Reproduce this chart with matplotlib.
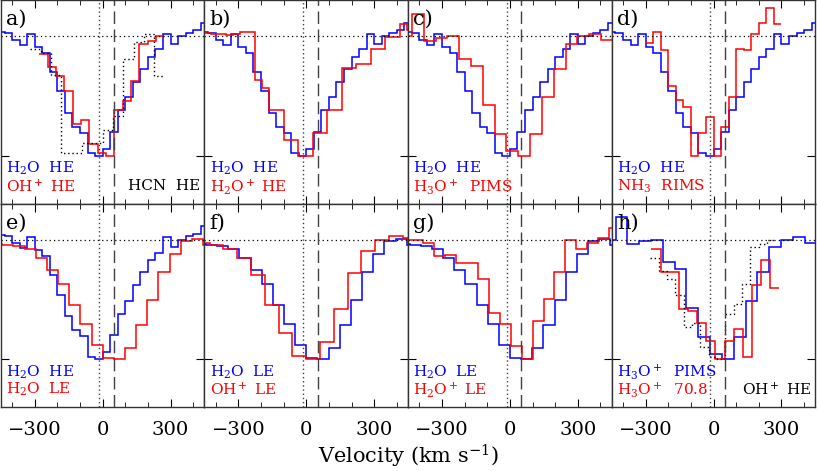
import matplotlib.pyplot as plt
import numpy as np

plt.rcParams['font.family'] = 'DejaVu Serif'
plt.rcParams['mathtext.fontset'] = 'dejavuserif'

# each spectrum: first bin edge (km/s), bin width (km/s), normalised depth per bin
h2o_he_v0, h2o_he_dv = -466.7, 33.333
h2o_he = [1.04, 1.03, 0.97, 0.93, 1.02, 0.91, 0.86, 0.70, 0.54, 0.36, 0.24, 0.19, 0.02, 0.00,
          0.06, 0.20, 0.38, 0.49, 0.62, 0.73, 0.83, 0.89, 1.02, 0.94, 1.00, 1.03, 1.05, 1.11]

oh_he_v0, oh_he_dv = -279.4, 36.8
oh_he = [0.85, 0.74, 0.67, 0.54, 0.27, 0.30, 0.10, 0.02, 0.00, 0.38, 0.46, 0.63, 0.94, 0.96, 1.00]

hcn_he_v0, hcn_he_dv = -319.0, 45.6
hcn_he = [0.89, 0.86, 0.68, 0.02, 0.02, 0.11, 0.11, 0.22, 0.33, 0.81, 0.95, 1.02, 0.67]

h2op_he_v0, h2op_he_dv = -451.0, 32.0
h2op_he = [1.03, 1.02, 1.02, 1.01, 1.02, 1.036, 1.036, 0.633, 0.564, 0.383, 0.383, 0.133, 0.133,
           0.0, 0.0, 0.194, 0.194, 0.383, 0.383, 0.731, 0.731, 0.772, 0.772, 0.897, 0.897,
           0.994, 0.994, 1.105, 1.05]

h3op_pims_v0, h3op_pims_dv = -485.0, 52.2
h3op_pims = [1.0, 1.19, 0.96, 0.99, 1.0, 0.81, 0.75, 0.425, 0.183, 0.04, 0.0, 0.183, 0.49,
             0.73, 0.94, 1.0, 1.02, 0.97]

nh3_rims_v0, nh3_rims_dv = -300.0, 33.333
nh3_rims = [0.944, 1.036, 0.889, 0.583, 0.467, 0.406, 0.0, 0.189, 0.322, 0.0, 0.244, 0.494,
            0.897, 0.889, 1.022, 1.111, 1.239, 1.106]

h2o_le_v0, h2o_le_dv = -492.7, 49.3
h2o_le = [0.96, 0.958, 0.95, 0.917, 0.847, 0.744, 0.625, 0.45, 0.297, 0.117, 0.006, 0.0, 0.097,
          0.283, 0.494, 0.728, 0.883, 0.986, 1.006, 0.958]

oh_le_v0, oh_le_dv = -488.0, 61.0
oh_le = [0.972, 0.958, 0.917, 0.847, 0.70, 0.45, 0.222, 0.028, 0.0, 0.144, 0.417, 0.722,
         0.903, 1.0, 1.028, 1.014]

h2op_le_v0, h2op_le_dv = -482.0, 48.5
h2op_le = [1.0, 1.0, 0.97, 0.86, 0.875, 0.806, 0.806, 0.667, 0.389, 0.292, 0.111, 0.0, 0.319,
           0.506, 0.728, 1.0, 0.917, 0.972, 1.014, 1.097]

h3op_708_v0, h3op_708_dv = -274.7, 40.4
h3op_708 = [0.922, 0.728, 0.728, 0.417, 0.40, 0.306, 0.153, 0.0, 0.153, 0.25, 0.014, 0.617,
            0.828, 0.597]

spectra = {
    'h2o_he': (h2o_he_v0, h2o_he_dv, h2o_he),
    'oh_he': (oh_he_v0, oh_he_dv, oh_he),
    'hcn_he': (hcn_he_v0, hcn_he_dv, hcn_he),
    'h2op_he': (h2op_he_v0, h2op_he_dv, h2op_he),
    'h3op_pims': (h3op_pims_v0, h3op_pims_dv, h3op_pims),
    'nh3_rims': (nh3_rims_v0, nh3_rims_dv, nh3_rims),
    'h2o_le': (h2o_le_v0, h2o_le_dv, h2o_le),
    'oh_le': (oh_le_v0, oh_le_dv, oh_le),
    'h2op_le': (h2op_le_v0, h2op_le_dv, h2op_le),
    'h3op_708': (h3op_708_v0, h3op_708_dv, h3op_708),
}

# panel: letter, blue, red, dotted, blue label, red label, dotted label
panels = [
    ('a)', 'h2o_he', 'oh_he', 'hcn_he', r'H$_2$O  HE', r'OH$^+$ HE', 'HCN  HE'),
    ('b)', 'h2o_he', 'h2op_he', None, r'H$_2$O  HE', r'H$_2$O$^+$ HE', None),
    ('c)', 'h2o_he', 'h3op_pims', None, r'H$_2$O  HE', r'H$_3$O$^+$  PIMS', None),
    ('d)', 'h2o_he', 'nh3_rims', None, r'H$_2$O  HE', r'NH$_3$  RIMS', None),
    ('e)', 'h2o_he', 'h2o_le', None, r'H$_2$O  HE', r'H$_2$O  LE', None),
    ('f)', 'h2o_le', 'oh_le', None, r'H$_2$O  LE', r'OH$^+$ LE', None),
    ('g)', 'h2o_le', 'h2op_le', None, r'H$_2$O  LE', r'H$_2$O$^+$ LE', None),
    ('h)', 'h3op_pims', 'h3op_708', 'oh_he', r'H$_3$O$^+$  PIMS', r'H$_3$O$^+$  70.8', r'OH$^+$ HE'),
]

v_sys_dot = -15
v_sys_dash = 50


def draw(ax, key, **kw):
    v0, dv, vals = spectra[key]
    edges = v0 + dv * np.arange(len(vals) + 1)
    ax.stairs(vals, edges, baseline=None, **kw)


fig, axes = plt.subplots(2, 4, figsize=(8.17, 4.71), dpi=100, sharex=True, sharey=True)
fig.subplots_adjust(left=0.001, right=0.998, top=0.999, bottom=0.136, wspace=0, hspace=0)

for ax, (letter, blue, red, dotted, lb, lr, ld) in zip(axes.flat, panels):
    ax.axhline(1, color='k', ls=(0, (1, 2.5)), lw=0.9)
    ax.axvline(v_sys_dot, color='0.25', ls=(0, (1, 2)), lw=1.0)
    ax.axvline(v_sys_dash, color='0.25', ls=(0, (9, 4)), lw=1.0)
    draw(ax, blue, color='#0000ff', lw=1.1)
    draw(ax, red, color='#ff0000', lw=1.1)
    if dotted:
        draw(ax, dotted, color='k', lw=1.0, ls=(0, (1, 2)))
    ax.text(0.025, 0.905, letter, transform=ax.transAxes, fontsize=15, va='center')
    ax.text(0.025, 0.172, lb, transform=ax.transAxes, fontsize=11, color='#0000ff', va='center')
    ax.text(0.025, 0.085, lr, transform=ax.transAxes, fontsize=11, color='#ff0000', va='center')
    if ld:
        ax.text(0.98, 0.085, ld, transform=ax.transAxes, fontsize=11, color='k',
                va='center', ha='right')

    ax.set_xlim(-450, 450)
    ax.set_ylim(-0.4, 1.3)
    ax.set_xticks([-300, 0, 300])
    ax.set_xticks(np.arange(-400, 401, 100), minor=True)
    ax.set_yticks([0])
    ax.set_yticklabels([])
    ax.tick_params(which='both', direction='in', top=True, bottom=True, left=True, right=True,
                   labelsize=14, pad=10)
    ax.tick_params(axis='x', which='major', length=6)
    ax.tick_params(axis='x', which='minor', length=3.5)
    ax.tick_params(axis='y', which='major', length=6)
    ax.tick_params(axis='y', which='minor', left=False, right=False)
    for s in ax.spines.values():
        s.set_linewidth(1.0)
        s.set_color('0.2')

fig.text(0.5, 0.03, r'Velocity (km s$^{-1}$)', ha='center', va='center', fontsize=15)

fig.savefig('out.png', dpi=100)
